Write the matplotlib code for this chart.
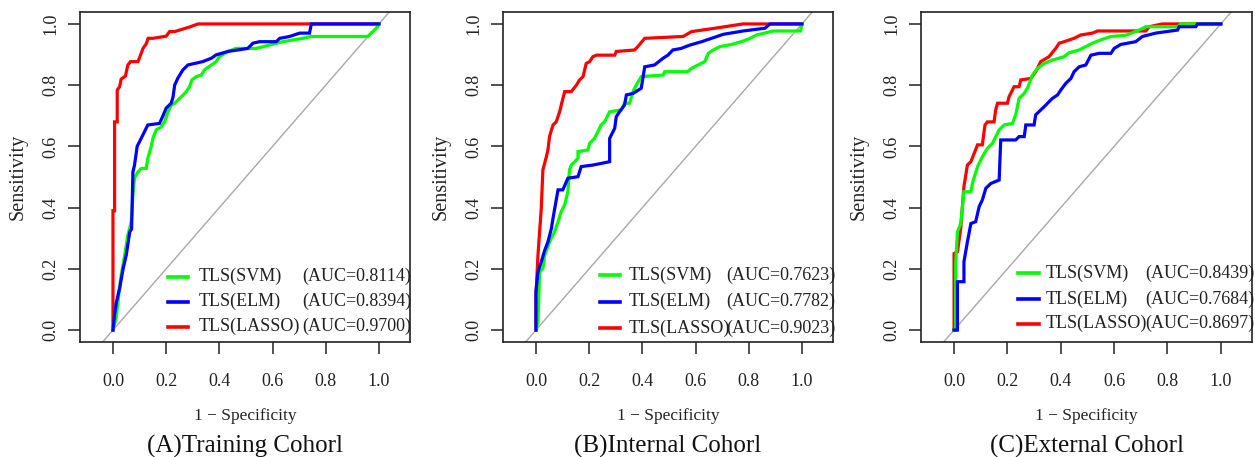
import matplotlib
matplotlib.use("Agg")
import matplotlib.pyplot as plt

plt.rcParams['font.family'] = ['Liberation Serif', 'DejaVu Serif']

# ---- data: ROC points (1-specificity, sensitivity) ----
A_SVM = [(0, 0), (0.012, 0.04), (0.019, 0.092), (0.025, 0.14), (0.031, 0.18), (0.044, 0.245),
         (0.056, 0.31), (0.069, 0.354), (0.075, 0.44), (0.081, 0.496), (0.094, 0.517), (0.107, 0.528),
         (0.125, 0.528), (0.131, 0.561), (0.144, 0.6), (0.15, 0.626), (0.163, 0.654), (0.182, 0.664),
         (0.194, 0.68), (0.207, 0.713), (0.219, 0.735), (0.232, 0.741), (0.257, 0.762), (0.276, 0.779),
         (0.288, 0.795), (0.297, 0.817), (0.313, 0.828), (0.332, 0.833), (0.344, 0.85), (0.37, 0.866),
         (0.388, 0.877), (0.40, 0.893), (0.432, 0.91), (0.463, 0.92), (0.538, 0.92), (0.638, 0.942),
         (0.713, 0.953), (0.745, 0.959), (0.958, 0.959), (0.995, 0.99), (1.0, 1.0)]
A_ELM = [(0, 0), (0.006, 0.05), (0.013, 0.092), (0.025, 0.136), (0.038, 0.20), (0.05, 0.245),
         (0.063, 0.32), (0.07, 0.33), (0.075, 0.517), (0.081, 0.539), (0.091, 0.6), (0.106, 0.626),
         (0.131, 0.67), (0.175, 0.675), (0.188, 0.70), (0.2, 0.725), (0.219, 0.741), (0.226, 0.762),
         (0.232, 0.80), (0.244, 0.823), (0.263, 0.85), (0.282, 0.866), (0.338, 0.877), (0.37, 0.888),
         (0.388, 0.899), (0.432, 0.91), (0.507, 0.92), (0.526, 0.937), (0.551, 0.942), (0.614, 0.942),
         (0.627, 0.953), (0.664, 0.959), (0.702, 0.97), (0.739, 0.97), (0.746, 1.0), (1.0, 1.0)]
A_LASSO = [(0, 0), (0, 0.39), (0.006, 0.39), (0.006, 0.68), (0.016, 0.68), (0.016, 0.784),
           (0.025, 0.795), (0.031, 0.82), (0.047, 0.83), (0.056, 0.866), (0.066, 0.877), (0.094, 0.877),
           (0.104, 0.899), (0.113, 0.92), (0.125, 0.935), (0.132, 0.953), (0.15, 0.953), (0.2, 0.96),
           (0.213, 0.975), (0.232, 0.975), (0.288, 0.99), (0.32, 1.0), (1.0, 1.0)]

B_SVM = [(0, 0), (0.0075, 0.027), (0.0138, 0.19), (0.026, 0.201), (0.033, 0.245), (0.051, 0.288),
         (0.07, 0.321), (0.083, 0.354), (0.095, 0.387), (0.108, 0.409), (0.12, 0.452), (0.126, 0.523),
         (0.133, 0.539), (0.158, 0.561), (0.158, 0.583), (0.195, 0.588), (0.202, 0.61), (0.22, 0.626),
         (0.233, 0.648), (0.245, 0.67), (0.258, 0.68), (0.277, 0.713), (0.321, 0.719), (0.333, 0.741),
         (0.352, 0.741), (0.365, 0.779), (0.377, 0.80), (0.396, 0.828), (0.478, 0.833), (0.484, 0.844),
         (0.571, 0.844), (0.585, 0.855), (0.61, 0.866), (0.635, 0.877), (0.648, 0.904), (0.667, 0.915),
         (0.692, 0.926), (0.736, 0.933), (0.779, 0.944), (0.805, 0.953), (0.83, 0.964), (0.892, 0.977),
         (0.995, 0.977), (1.0, 1.0)]
B_ELM = [(0, 0), (0, 0.125), (0.0075, 0.19), (0.02, 0.223), (0.033, 0.261), (0.045, 0.288),
         (0.058, 0.332), (0.064, 0.365), (0.083, 0.458), (0.101, 0.458), (0.12, 0.496), (0.158, 0.501),
         (0.17, 0.534), (0.214, 0.539), (0.277, 0.55), (0.277, 0.626), (0.296, 0.659), (0.302, 0.697),
         (0.314, 0.713), (0.333, 0.735), (0.34, 0.768), (0.365, 0.773), (0.396, 0.79), (0.409, 0.86),
         (0.446, 0.866), (0.478, 0.888), (0.496, 0.898), (0.515, 0.915), (0.546, 0.92), (0.579, 0.931),
         (0.623, 0.942), (0.667, 0.955), (0.704, 0.966), (0.779, 0.977), (0.861, 0.986), (0.88, 1.0),
         (1.0, 1.0)]
B_LASSO = [(0, 0), (0, 0.114), (0.0075, 0.245), (0.02, 0.398), (0.026, 0.523), (0.039, 0.566),
           (0.045, 0.588), (0.051, 0.632), (0.064, 0.67), (0.076, 0.68), (0.089, 0.713), (0.095, 0.735),
           (0.108, 0.779), (0.133, 0.779), (0.152, 0.80), (0.164, 0.817), (0.177, 0.828), (0.189, 0.871),
           (0.202, 0.877), (0.214, 0.893), (0.227, 0.898), (0.296, 0.898), (0.302, 0.91), (0.371, 0.915),
           (0.383, 0.926), (0.409, 0.953), (0.553, 0.959), (0.585, 0.975), (0.673, 0.986), (0.779, 1.0),
           (1.0, 1.0)]

C_SVM = [(0, 0), (0.006, 0.0), (0.006, 0.218), (0.0126, 0.321), (0.025, 0.348), (0.037, 0.452),
         (0.063, 0.452), (0.069, 0.48), (0.088, 0.534), (0.106, 0.566), (0.125, 0.594), (0.144, 0.61),
         (0.169, 0.654), (0.188, 0.67), (0.219, 0.675), (0.231, 0.703), (0.244, 0.757), (0.263, 0.773),
         (0.275, 0.79), (0.294, 0.833), (0.313, 0.855), (0.338, 0.871), (0.369, 0.882), (0.413, 0.893),
         (0.431, 0.906), (0.469, 0.915), (0.494, 0.926), (0.519, 0.937), (0.55, 0.948), (0.588, 0.959),
         (0.644, 0.963), (0.694, 0.98), (0.719, 0.991), (0.838, 0.991), (0.85, 1.0), (1.0, 1.0)]
C_ELM = [(0, 0), (0.0126, 0), (0.0126, 0.158), (0.037, 0.158), (0.037, 0.223), (0.05, 0.288),
         (0.063, 0.348), (0.081, 0.354), (0.094, 0.403), (0.106, 0.425), (0.119, 0.463), (0.138, 0.479),
         (0.169, 0.49), (0.175, 0.621), (0.231, 0.621), (0.244, 0.632), (0.263, 0.632), (0.269, 0.67),
         (0.3, 0.67), (0.306, 0.703), (0.331, 0.724), (0.344, 0.735), (0.356, 0.746), (0.369, 0.757),
         (0.388, 0.768), (0.40, 0.784), (0.419, 0.806), (0.438, 0.822), (0.45, 0.844), (0.469, 0.86),
         (0.494, 0.866), (0.513, 0.898), (0.544, 0.904), (0.588, 0.904), (0.60, 0.92), (0.625, 0.933),
         (0.681, 0.942), (0.706, 0.959), (0.756, 0.97), (0.838, 0.98), (0.844, 0.991), (0.906, 0.991),
         (0.913, 1.0), (1.0, 1.0)]
C_LASSO = [(0, 0), (0, 0.25), (0.0126, 0.256), (0.025, 0.332), (0.037, 0.469), (0.05, 0.539),
           (0.063, 0.55), (0.088, 0.605), (0.106, 0.605), (0.116, 0.67), (0.125, 0.68), (0.15, 0.68),
           (0.156, 0.719), (0.163, 0.741), (0.2, 0.741), (0.206, 0.762), (0.225, 0.795), (0.244, 0.795),
           (0.25, 0.817), (0.288, 0.822), (0.306, 0.844), (0.325, 0.877), (0.356, 0.893), (0.381, 0.92),
           (0.394, 0.937), (0.413, 0.942), (0.45, 0.953), (0.475, 0.964), (0.519, 0.97), (0.538, 0.977),
           (0.719, 0.977), (0.732, 0.991), (0.781, 1.0), (1.0, 1.0)]

model_names = ["TLS(SVM)", "TLS(ELM)", "TLS(LASSO)"]
model_colors = ["#00FF00", "#0000FF", "#FF0000"]
auc_A = ["0.8114", "0.8394", "0.9700"]
auc_B = ["0.7623", "0.7782", "0.9023"]
auc_C = ["0.8439", "0.7684", "0.8697"]
panel_titles = ["(A)Training Cohorl", "(B)Internal Cohorl", "(C)External Cohorl"]
ticks = [0.0, 0.2, 0.4, 0.6, 0.8, 1.0]

panels = [
    ([A_SVM, A_ELM, A_LASSO], auc_A),
    ([B_SVM, B_ELM, B_LASSO], auc_B),
    ([C_SVM, C_ELM, C_LASSO], auc_C),
]

W, H = 1255, 457
fig = plt.figure(figsize=(W / 100, H / 100), dpi=100)
axes_px = [(80, 12, 330, 330), (503, 12, 330, 330), (921, 12, 331, 330)]
legend_cfg = [
    dict(line=(0.267, 0.327), name_x=0.36, auc_x=0.672, rows=(0.198, 0.122, 0.046)),
    dict(line=(0.294, 0.355), name_x=0.38, auc_x=0.678, rows=(0.203, 0.122, 0.041)),
    dict(line=(0.294, 0.358), name_x=0.376, auc_x=0.679, rows=(0.209, 0.129, 0.056)),
]
zorders = [2, 3, 1]  # green, blue, red

for i, ((curves, aucs), (lx, ty, w, h)) in enumerate(zip(panels, axes_px)):
    ax = fig.add_axes([lx / W, 1 - (ty + h) / H, w / W, h / H])
    ax.set_xlim(-0.124, 1.117)
    ax.set_ylim(-0.039, 1.039)
    ax.plot([-0.2, 1.2], [-0.2, 1.2], color="#A8A8A8", lw=1.0, zorder=0)
    for curve, col, z in zip(curves, model_colors, zorders):
        xs = [p[0] for p in curve]
        ys = [p[1] for p in curve]
        ax.plot(xs, ys, color=col, lw=2.3, zorder=z, solid_joinstyle='miter')
    ax.set_xticks(ticks)
    ax.set_yticks(ticks)
    ax.set_xticklabels([f"{t:.1f}" for t in ticks], fontsize=13)
    ax.set_yticklabels([f"{t:.1f}" for t in ticks], fontsize=13, rotation=90, va='center')
    ax.tick_params(axis='x', direction='out', length=8.5, width=1.1, pad=14, colors='#222222')
    ax.tick_params(axis='y', direction='out', length=8.5, width=1.1, pad=6, colors='#222222')
    for s in ax.spines.values():
        s.set_linewidth(1.2)
        s.set_color('#222222')
    ax.text(-0.188, 0.5, "Sensitivity", transform=ax.transAxes, rotation=90,
            ha='center', va='center', fontsize=14.5, color='#222222')
    ax.text(0.5, -0.224, "1 \u2212 Specificity", transform=ax.transAxes,
            ha='center', va='center', fontsize=12.5, color='#222222')
    ax.text(0.5, -0.316, panel_titles[i], transform=ax.transAxes,
            ha='center', va='center', fontsize=18, color='#111111')
    cfg = legend_cfg[i]
    for name, col, auc, yr in zip(model_names, model_colors, aucs, cfg["rows"]):
        ax.plot(cfg["line"], [yr, yr], transform=ax.transAxes, color=col, lw=2.6, zorder=5)
        ax.text(cfg["name_x"], yr, name, transform=ax.transAxes, ha='left', va='center',
                fontsize=13, color='#222222')
        ax.text(cfg["auc_x"], yr, f"(AUC={auc})", transform=ax.transAxes, ha='left', va='center',
                fontsize=13, color='#222222')

fig.savefig("out.png", dpi=100)
